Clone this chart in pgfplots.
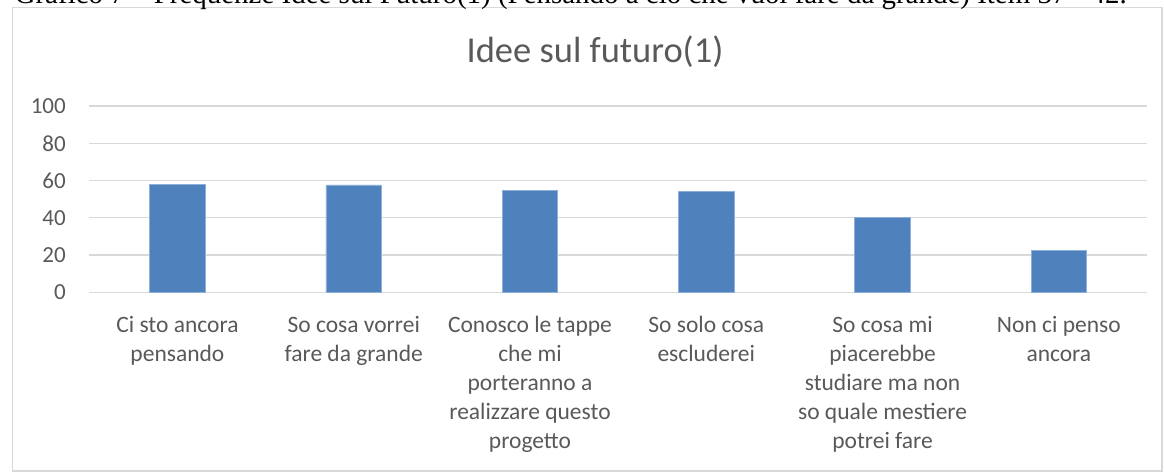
\documentclass[border=0pt]{standalone}
\usepackage{pgfplots}
\pgfplotsset{compat=1.18}
\usepackage{fontspec}
\setmainfont{Carlito}
\newfontfamily\timesfont{Liberation Serif}
\definecolor{barblue}{HTML}{4F81BD}
\definecolor{baredge}{HTML}{8DB0DA}
\definecolor{txtgray}{HTML}{595959}
\definecolor{gridgray}{HTML}{D9D9D9}
\begin{document}
\begin{tikzpicture}[x=1bp,y=1bp]
\path[use as bounding box] (0,0) rectangle (1164,-472);
\clip (0,0) rectangle (1164,-472);
\draw[gridgray, line width=1.2bp] (12.7,-7.8) rectangle (1162,-471);
\node[anchor=base west, inner sep=0pt] at (14.5,-4) {\resizebox{1112bp}{!}{\timesfont Grafico 7 – Frequenze Idee sul Futuro(1) (Pensando a ciò che vuoi fare da grande) Item 37 - 42.}};
\node[anchor=base, inner sep=0pt, text=txtgray, font=\fontsize{36.5bp}{42bp}\selectfont] at (595,-62.7) {Idee sul futuro(1)};
\coordinate (O) at (89.3,-292.3);
\begin{axis}[
  at={(O)}, anchor=south west,
  scale only axis, width=1057.7bp, height=186.3bp,
  ymin=0, ymax=100, xmin=-0.5, xmax=5.5,
  ytick={0,20,...,100},
  xtick={0,1,2,3,4,5},
  xticklabels={{\strut Ci sto ancora\\pensando},{\strut So cosa vorrei\\fare da grande},{\strut Conosco le tappe\\che mi\\porteranno a\\realizzare questo\\progetto},{\strut So solo cosa\\escluderei},{\strut So cosa mi\\piacerebbe\\studiare ma non\\so quale mestiere\\potrei fare},{\strut Non ci penso\\ancora}},
  ymajorgrids, grid style={gridgray, line width=1.2bp},
  axis line style={draw=none},
  major tick length=0pt,
  /pgf/number format/assume math mode=true,
  yticklabel style={font=\fontsize{23bp}{28bp}\selectfont, text=txtgray, inner sep=0pt, anchor=east},
  yticklabel shift=23.3bp,
  xticklabel style={font=\fontsize{23.5bp}{29bp}\selectfont, text=txtgray, inner sep=0pt, anchor=north, align=center},
  xticklabel shift=19.2bp,
  clip=false,
]
\addplot[ybar, bar width=55.5bp, fill=barblue, draw=baredge, line width=0.7bp] coordinates {
  (0,58.1) (1,57.6) (2,54.7) (3,54.0) (4,40.1) (5,22.5)
};
\end{axis}
\end{tikzpicture}
\end{document}
